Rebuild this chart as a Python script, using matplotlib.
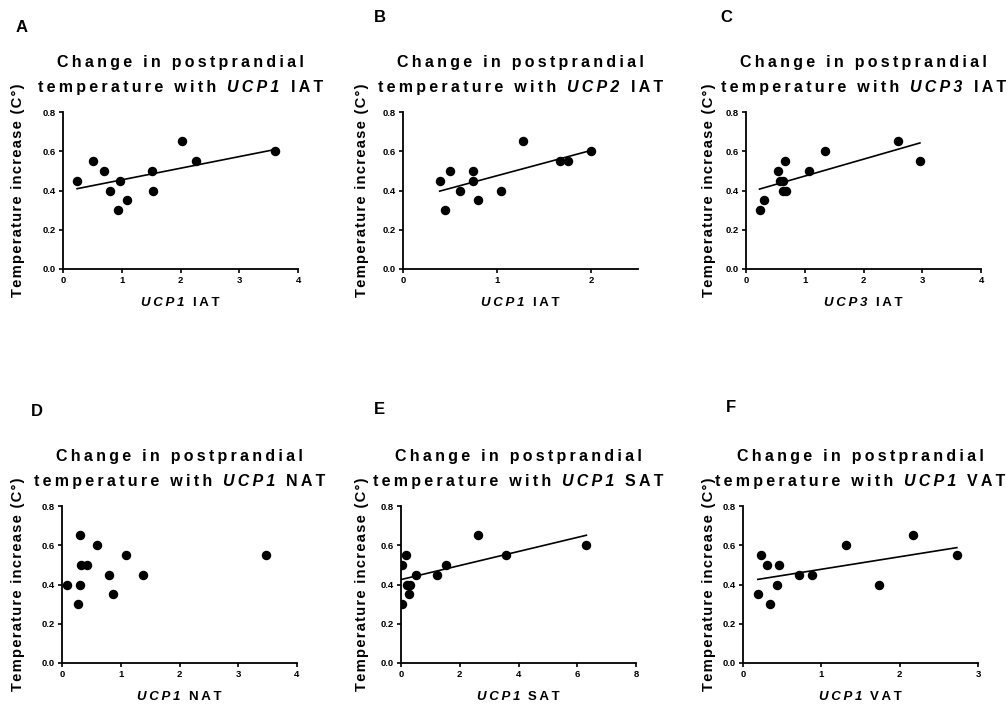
""" Six scatter panels: postprandial temperature increase vs UCP expression. """
import numpy as np
import matplotlib
matplotlib.use('Agg')
import matplotlib.pyplot as plt

FONT = ['Liberation Sans', 'DejaVu Sans']
plt.rcParams['font.family'] = FONT
plt.rcParams['font.weight'] = 'bold'

# data
letters = ['A', 'B', 'C', 'D', 'E', 'F']
genes = ['UCP1', 'UCP2', 'UCP3', 'UCP1', 'UCP1', 'UCP1']
depots = ['IAT', 'IAT', 'IAT', 'NAT', 'SAT', 'VAT']
xgenes = ['UCP1', 'UCP1', 'UCP3', 'UCP1', 'UCP1', 'UCP1']
x_max = [4, 2.5, 4, 4, 8, 3]
x_step = [1, 1, 1, 1, 2, 1]
has_fit = [True, True, True, False, True, True]

x_a = [0.24, 0.51, 0.70, 0.80, 0.94, 0.97, 1.09, 1.52, 1.54, 2.02, 2.27, 3.60]
y_a = [0.45, 0.55, 0.50, 0.40, 0.30, 0.45, 0.35, 0.50, 0.40, 0.65, 0.55, 0.60]
x_b = [0.39, 0.45, 0.50, 0.61, 0.74, 0.74, 0.80, 1.04, 1.28, 1.67, 1.75, 2.00]
y_b = [0.45, 0.30, 0.50, 0.40, 0.50, 0.45, 0.35, 0.40, 0.65, 0.55, 0.55, 0.60]
x_c = [0.23, 0.30, 0.54, 0.58, 0.63, 0.63, 0.66, 0.68, 1.08, 1.34, 2.58, 2.96]
y_c = [0.30, 0.35, 0.50, 0.45, 0.45, 0.40, 0.55, 0.40, 0.50, 0.60, 0.65, 0.55]
x_d = [0.09, 0.28, 0.31, 0.31, 0.33, 0.43, 0.60, 0.80, 0.87, 1.09, 1.38, 3.48]
y_d = [0.40, 0.30, 0.65, 0.40, 0.50, 0.50, 0.60, 0.45, 0.35, 0.55, 0.45, 0.55]
x_e = [0.02, 0.02, 0.16, 0.20, 0.27, 0.30, 0.52, 1.24, 1.52, 2.61, 3.57, 6.31]
y_e = [0.50, 0.30, 0.55, 0.40, 0.35, 0.40, 0.45, 0.45, 0.50, 0.65, 0.55, 0.60]
x_f = [0.19, 0.23, 0.31, 0.34, 0.44, 0.46, 0.71, 0.88, 1.31, 1.73, 2.17, 2.73]
y_f = [0.35, 0.55, 0.50, 0.30, 0.40, 0.50, 0.45, 0.45, 0.60, 0.40, 0.65, 0.55]
xs = [x_a, x_b, x_c, x_d, x_e, x_f]
ys = [y_a, y_b, y_c, y_d, y_e, y_f]

# layout (pixels, figure is 1008 x 704 at dpi 100)
W, H = 1008, 704
ax_left = [63, 403, 746, 62, 401, 743]
ax_bottom = [269, 269, 269, 663, 663, 663]
ax_w, ax_h = 235, 157
letter_pos = [(22, 28), (380, 17), (726, 18), (37, 411), (379, 409), (731, 407)]
ylab_off = [-45, -41, -37, -44, -39, -34]


def spaced(s, gap='\u2009'):
    """ fake letter spacing """
    return gap.join(s)


def rich_line(fig, x_px, y_px, parts, size, gap='\u2009', word=0.68):
    """ draw a centred line made of (text, style) parts, baseline at y_px """
    r = fig.canvas.get_renderer()
    inv = fig.transFigure.inverted()
    arts = [fig.text(0, 0, spaced(t, gap), fontsize=size, fontweight='bold',
                     fontstyle=st, family=FONT, ha='left', va='baseline')
            for t, st in parts]
    widths = [a.get_window_extent(r).width for a in arts]
    word_gap = word * size * fig.dpi / 72
    x = x_px - (sum(widths) + word_gap * (len(arts) - 1)) / 2
    for a, w in zip(arts, widths):
        a.set_position(inv.transform((x, H - y_px)))
        x += w + word_gap


fig = plt.figure(figsize=(W / 100, H / 100), dpi=100)

for i in range(6):
    ax = fig.add_axes([ax_left[i] / W, 1 - ax_bottom[i] / H, ax_w / W, ax_h / H])
    x = np.array(xs[i])
    y = np.array(ys[i])
    ax.plot(x, y, 'o', color='black', markersize=5.8, zorder=3)
    if has_fit[i]:
        k, b = np.polyfit(x, y, 1)
        xx = np.array([x.min(), x.max()])
        ax.plot(xx, k * xx + b, color='black', linewidth=1.2)
    ax.set_xlim(0, x_max[i])
    ax.set_ylim(0, 0.8)
    ax.set_xticks(np.arange(0, x_max[i] + 0.01, x_step[i]))
    ax.set_yticks([0.0, 0.2, 0.4, 0.6, 0.8])
    ax.set_yticklabels(['0.0', '0.2', '0.4', '0.6', '0.8'])
    for s in ['top', 'right']:
        ax.spines[s].set_visible(False)
    for s in ['left', 'bottom']:
        ax.spines[s].set_linewidth(1.3)
    ax.tick_params(length=3, width=1.2, pad=2, labelsize=6.8, color='black')
    for lab in ax.get_xticklabels() + ax.get_yticklabels():
        lab.set_fontweight('bold')
    ax.set_ylabel(spaced('Temperature increase (C°)', '\u200a'), fontsize=10.6,
                  fontweight='bold', va='center')
    ax.yaxis.set_label_coords(ylab_off[i] / ax_w, 0.5)

    cx = ax_left[i] + ax_w / 2
    top = ax_bottom[i] - ax_h
    rich_line(fig, cx, top - 45, [('Change in postprandial', 'normal')], 11.5)
    rich_line(fig, cx, top - 20, [('temperature with', 'normal'),
                                  (genes[i], 'italic'), (depots[i], 'normal')], 11.5)
    rich_line(fig, cx, ax_bottom[i] + 37, [(xgenes[i], 'italic'), (depots[i], 'normal')],
              9.5, word=0.62)
    fig.text(letter_pos[i][0] / W, 1 - letter_pos[i][1] / H, letters[i], fontsize=12,
             fontweight='bold', ha='center', va='center')

fig.savefig('out.png', dpi=100)
